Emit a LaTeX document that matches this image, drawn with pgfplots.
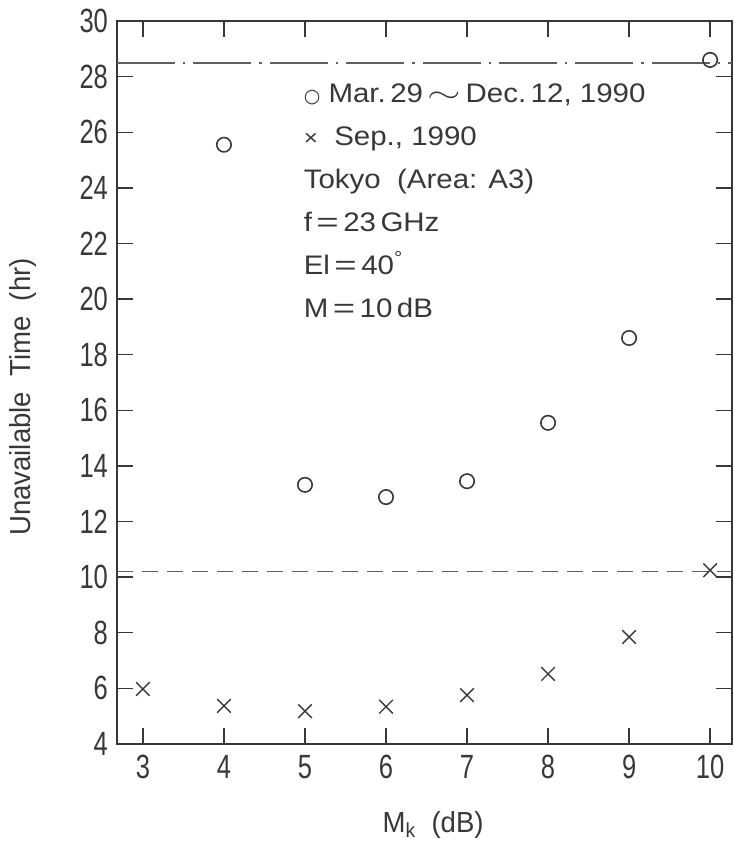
\documentclass[border=0pt]{standalone}
\usepackage{fontspec}
\setmainfont{Liberation Sans}
\newfontfamily\tickfont{Liberation Sans}[FakeStretch=0.76]
\newfontfamily\labfont{Liberation Sans}[FakeStretch=0.95]
\newfontfamily\legfont{Liberation Sans}[FakeStretch=1.1]
\newfontfamily\dejavu{DejaVu Sans}
\usepackage{pgfplots}
\pgfplotsset{compat=1.18}
\definecolor{ink}{gray}{0.22}

\begin{document}
\begin{tikzpicture}
\useasboundingbox (-58.5pt,-50pt) rectangle (308pt,372pt);
\begin{axis}[
    at={(0,0)}, anchor=south west,
    scale only axis,
    width=307.5pt, height=361.5pt,
    xmin=2.68, xmax=10.27,
    ymin=4, ymax=30,
    xtick={3,...,10},
    ytick={4,6,...,30},
    tick align=inside,
    major tick length=8pt,
    axis line style={ink, line width=1.2pt},
    tick style={ink, line width=0.7pt},
    /pgf/number format/assume math mode=true,
    tick label style={ink, font=\tickfont\fontsize{16.8}{16.8}\selectfont},
    yticklabel style={xshift=-1pt},
    xticklabel style={yshift=-2pt},
    xlabel={M\textsubscript{k}\ \ (dB)},
    ylabel={Unavailable\ \ Time\ \ (hr)},
    label style={ink, font=\labfont\fontsize{14.5}{14.5}\selectfont},
    xlabel style={at={(axis description cs:0.514,-0.112)}, anchor=center},
    ylabel style={at={(axis description cs:-0.153,0.48)}, anchor=center},
    clip=false,
]
% reference levels
\addplot[ink!80, line width=0.8pt, dash pattern=on 29pt off 4pt on 1.2pt off 4pt]
    coordinates {(2.68,28.5) (10.27,28.5)};
\addplot[ink!80, line width=0.8pt, dash pattern=on 8pt off 4.5pt]
    coordinates {(2.68,10.2) (10.27,10.2)};
% Mar. 29 - Dec. 12, 1990
\addplot[only marks, mark=o, mark size=3.6pt, ink, mark options={line width=0.8pt}]
    coordinates {(4,25.55) (5,13.32) (6,12.88) (7,13.45) (8,15.55) (9,18.6) (10,28.6)};
% Sep., 1990
\addplot[only marks, mark=x, mark size=4.8pt, ink, mark options={line width=0.7pt}]
    coordinates {(3,5.98) (4,5.37) (5,5.18) (6,5.34) (7,5.76) (8,6.52) (9,7.85) (10,10.25)};
\node[anchor=north west, align=left, inner sep=0pt, text=ink,
      font=\legfont\fontsize{13.4}{21.5}\selectfont] at (axis cs:4.98,27.75)
  {{\dejavu\fontsize{9.5}{9.5}\selectfont ○}\ Mar.\,29\,\scalebox{1.5}[1]{$\sim$}\,Dec.\,12, 1990\\
   {\fontsize{11}{11}\selectfont ×}\ \ Sep., 1990\\
   Tokyo\ \ (Area: A3)\\
   f\,\scalebox{1.3}[1]{=}\,23\,GHz\\
   El\,\scalebox{1.3}[1]{=}\,40\textsuperscript{°}\\
   M\,\scalebox{1.3}[1]{=}\,10\,dB};
\end{axis}
\end{tikzpicture}
\end{document}
